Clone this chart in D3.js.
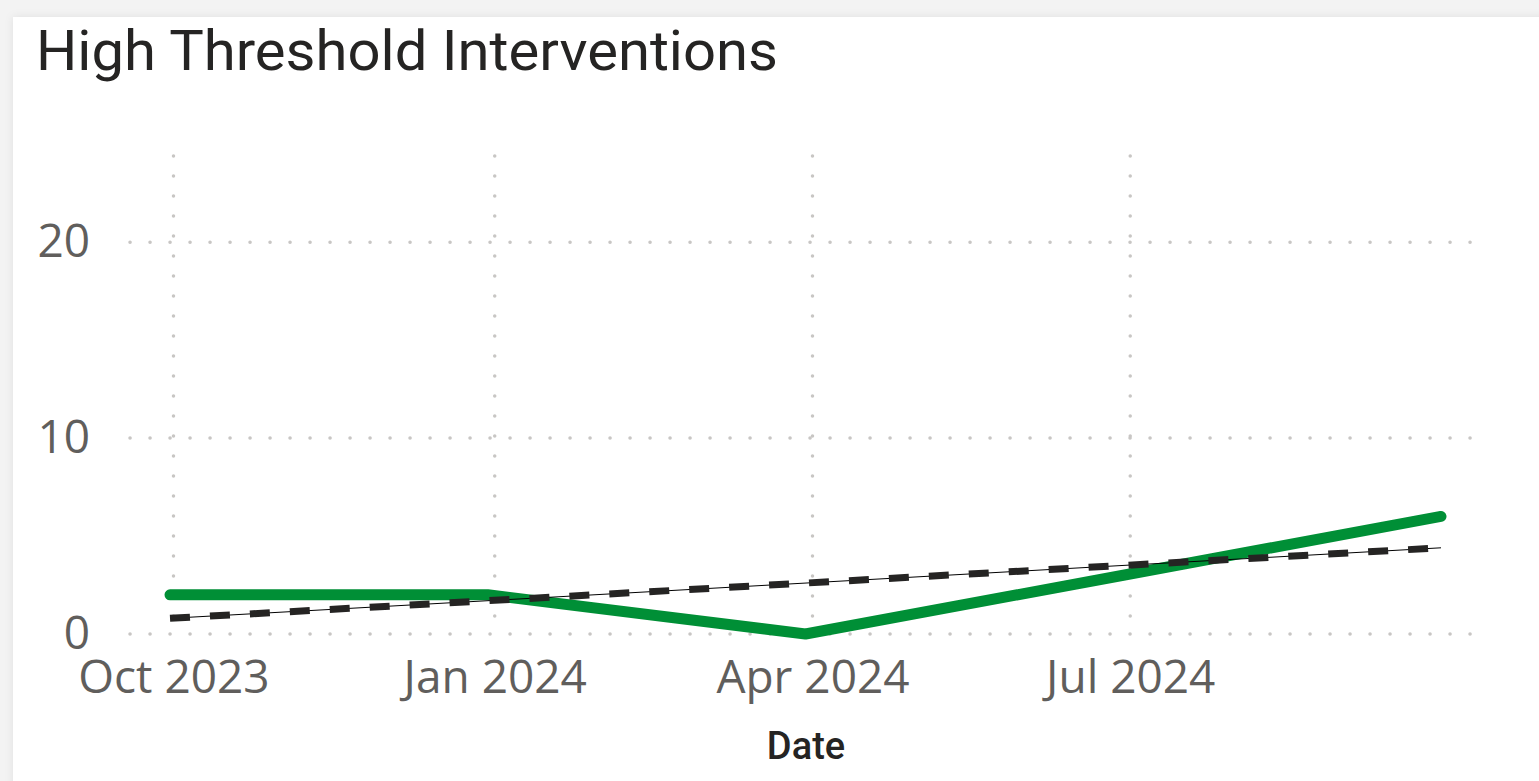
<!DOCTYPE html>
<html>
<head>
<meta charset="utf-8">
<script src="https://cdn.jsdelivr.net/npm/d3@7"></script>
<style>
  html, body { margin: 0; padding: 0; background: #f3f3f3; }
  svg { display: block; }
</style>
</head>
<body>
<svg id="chart" width="1539" height="781"></svg>
<script>
// quarterly readings (13-week spacing)
const dates = ["2023-09-30", "2023-12-30", "2024-03-30", "2024-06-29", "2024-09-28"];
const values = [2, 2, 0, 3, 6];
const xTickDates = ["2023-10-01", "2024-01-01", "2024-04-01", "2024-07-01"];
const yTicks = [0, 10, 20];
const titleText = "High Threshold Interventions";
const xTitle = "Date";

const parse = d3.timeParse("%Y-%m-%d");
const data = dates.map((d, i) => ({ date: parse(d), value: values[i] }));

const svg = d3.select("#chart");

// card
const defs = svg.append("defs");
const shadow = defs.append("filter").attr("id", "shadow")
  .attr("x", "-5%").attr("y", "-5%").attr("width", "110%").attr("height", "110%");
shadow.append("feDropShadow").attr("dx", 0).attr("dy", 0)
  .attr("stdDeviation", 4).attr("flood-color", "#000").attr("flood-opacity", 0.08);
svg.append("rect")
  .attr("x", 13).attr("y", 17).attr("width", 1540).attr("height", 800)
  .attr("fill", "#fff").attr("filter", "url(#shadow)");

svg.append("text")
  .attr("x", 36).attr("y", 70)
  .attr("font-family", "Roboto, 'DejaVu Sans', sans-serif")
  .attr("font-size", 56)
  .attr("fill", "#252423")
  .attr("textLength", 742)
  .attr("lengthAdjust", "spacingAndGlyphs")
  .text(titleText);

const plotLeft = 130, plotRight = 1472, plotTop = 156, plotBottom = 634;

const x = d3.scaleTime()
  .domain(d3.extent(data, d => d.date))
  .range([170, 1441]);
const y = d3.scaleLinear()
  .domain([0, 24.4])
  .range([plotBottom, plotTop]);

const gridColor = "#c8c6c4";

// horizontal grid + y labels
const yAxis = svg.append("g")
  .attr("transform", `translate(${plotLeft},0)`)
  .call(d3.axisLeft(y).tickValues(yTicks).tickSize(0).tickPadding(40));
yAxis.select(".domain").remove();
yAxis.selectAll("text")
  .attr("font-family", "'Open Sans', 'Noto Sans', sans-serif")
  .attr("font-size", 46)
  .attr("fill", "#605e5c");
svg.append("g").selectAll("line")
  .data(yTicks).join("line")
  .attr("x1", plotLeft).attr("x2", plotRight)
  .attr("y1", d => y(d)).attr("y2", d => y(d))
  .attr("stroke", gridColor).attr("stroke-width", 3.5)
  .attr("stroke-linecap", "round")
  .attr("stroke-dasharray", "0.1 19.9");

// vertical grid + x labels
const xTicks = xTickDates.map(parse);
svg.append("g").selectAll("line")
  .data(xTicks).join("line")
  .attr("x1", d => x(d)).attr("x2", d => x(d))
  .attr("y1", plotTop).attr("y2", plotBottom)
  .attr("stroke", gridColor).attr("stroke-width", 3.5)
  .attr("stroke-linecap", "round")
  .attr("stroke-dasharray", "0.1 19.9");

const xAxis = svg.append("g")
  .attr("transform", `translate(0,${plotBottom})`)
  .call(d3.axisBottom(x).tickValues(xTicks).tickFormat(d3.timeFormat("%b %Y")).tickSize(0).tickPadding(26));
xAxis.select(".domain").remove();
xAxis.selectAll("text")
  .attr("font-family", "'Open Sans', 'Noto Sans', sans-serif")
  .attr("font-size", 46)
  .attr("fill", "#605e5c");

svg.append("text")
  .attr("x", 806).attr("y", 759)
  .attr("text-anchor", "middle")
  .attr("font-family", "Roboto, 'DejaVu Sans', sans-serif")
  .attr("font-weight", 500)
  .attr("font-size", 38)
  .attr("fill", "#252423")
  .text(xTitle);

// main series
const line = d3.line().x(d => x(d.date)).y(d => y(d.value));
svg.append("path")
  .datum(data)
  .attr("d", line)
  .attr("fill", "none")
  .attr("stroke", "#008f36")
  .attr("stroke-width", 11)
  .attr("stroke-linecap", "round")
  .attr("stroke-linejoin", "round");

// least squares trend line
const xs = data.map(d => +d.date), ys = data.map(d => d.value);
const mx = d3.mean(xs), my = d3.mean(ys);
const slope = d3.sum(xs.map((v, i) => (v - mx) * (ys[i] - my))) / d3.sum(xs.map(v => (v - mx) * (v - mx)));
const trend = [data[0].date, data[data.length - 1].date].map(d => ({ date: d, value: my + slope * (+d - mx) }));

svg.append("path")
  .datum(trend)
  .attr("d", line)
  .attr("fill", "none")
  .attr("stroke", "#000")
  .attr("stroke-width", 1);
svg.append("path")
  .datum(trend)
  .attr("d", line)
  .attr("fill", "none")
  .attr("stroke", "#252423")
  .attr("stroke-width", 7)
  .attr("stroke-dasharray", "20 20");
</script>
</body>
</html>
